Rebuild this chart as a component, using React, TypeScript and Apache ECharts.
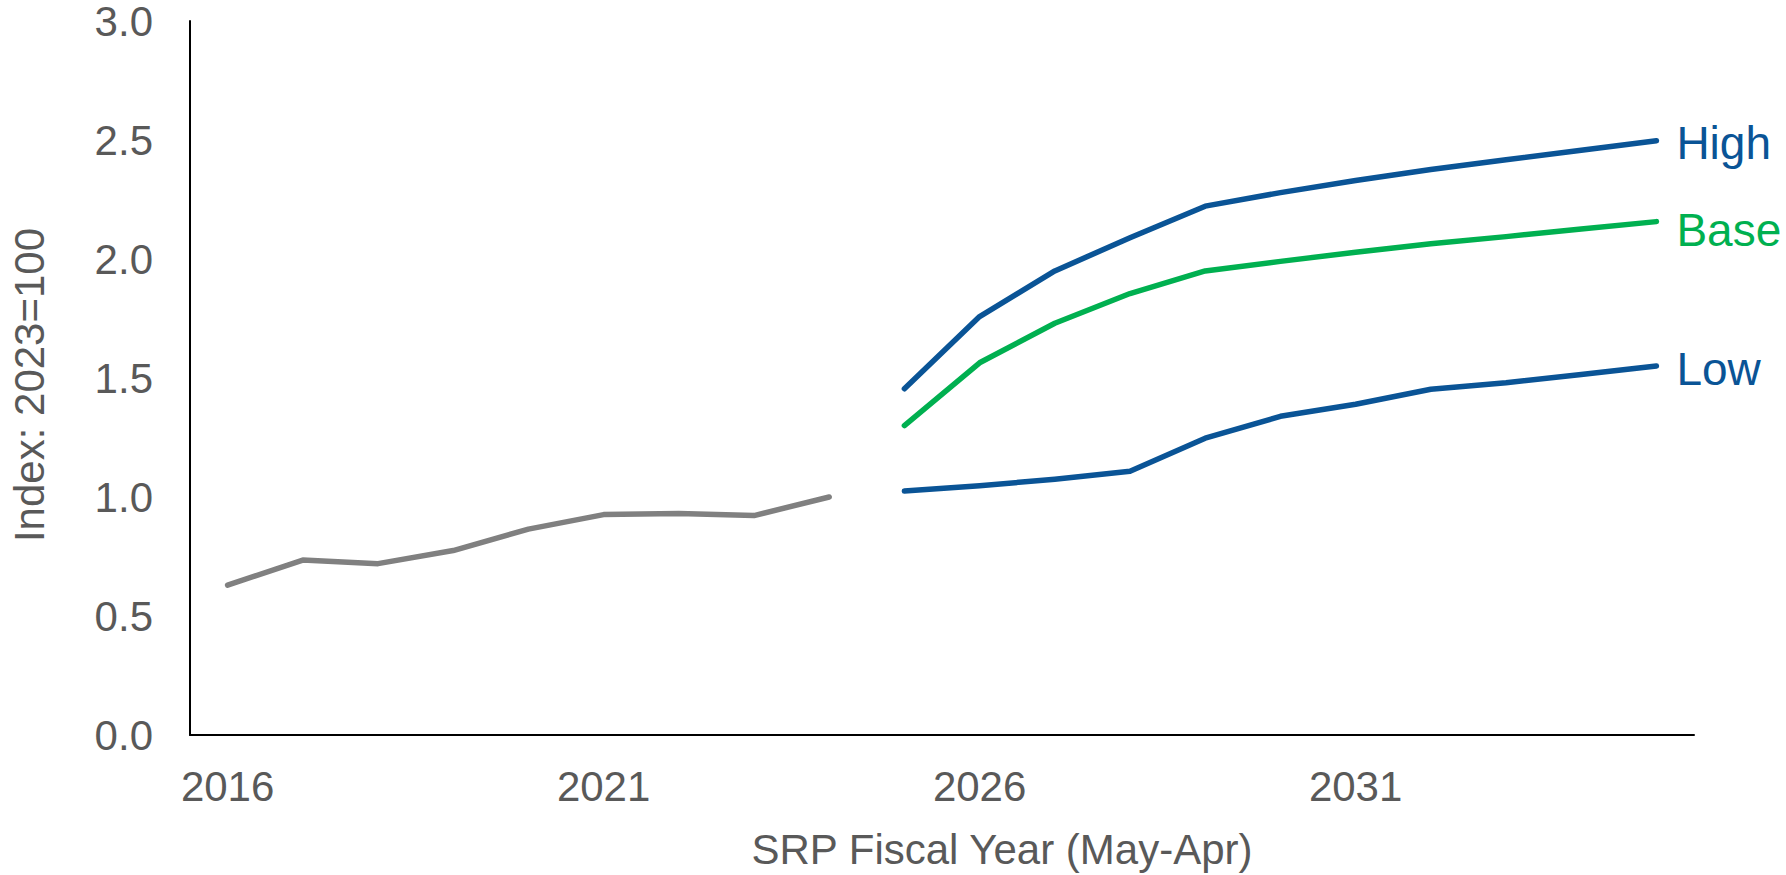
import React, { useEffect, useRef } from "react";
import * as echarts from "echarts";

const years: string[] = [
  "2016", "2017", "2018", "2019", "2020", "2021", "2022", "2023", "2024", "2025",
  "2026", "2027", "2028", "2029", "2030", "2031", "2032", "2033", "2034", "2035",
];

const historical: (number | null)[] = [
  0.63, 0.735, 0.72, 0.775, 0.865, 0.926, 0.931, 0.922, 1.0,
  null, null, null, null, null, null, null, null, null, null, null,
];

const high: (number | null)[] = [
  null, null, null, null, null, null, null, null, null,
  1.455, 1.758, 1.95, 2.089, 2.222, 2.279, 2.33, 2.376, 2.417, 2.457, 2.497,
];

const base: (number | null)[] = [
  null, null, null, null, null, null, null, null, null,
  1.3, 1.564, 1.73, 1.855, 1.95, 1.99, 2.028, 2.064, 2.094, 2.126, 2.157,
];

const low: (number | null)[] = [
  null, null, null, null, null, null, null, null, null,
  1.025, 1.047, 1.075, 1.108, 1.247, 1.339, 1.39, 1.453, 1.48, 1.515, 1.55,
];

const yTicks = { min: 0, max: 3, interval: 0.5 };

const FONT = "'Liberation Sans', Arial, sans-serif";
const TEXT = "#595959";
const BLUE = "#0A5496";
const GREEN = "#00B050";
const GRAY = "#808080";

export default function App() {
  const ref = useRef<HTMLDivElement>(null);

  useEffect(() => {
    if (!ref.current) return;
    const chart = echarts.init(ref.current, null, { renderer: "svg" });

    const mkSeries = (
      name: string,
      data: (number | null)[],
      color: string,
      label: boolean,
      dy: number
    ) => ({
      name,
      type: "line",
      data,
      showSymbol: false,
      symbol: "none",
      connectNulls: false,
      lineStyle: { color, width: 5.5, cap: "round", join: "round" },
      itemStyle: { color },
      emphasis: { disabled: true },
      endLabel: label
        ? {
            show: true,
            formatter: "{a}",
            color,
            fontSize: 46,
            fontFamily: FONT,
            distance: 20,
            offset: [0, dy],
          }
        : { show: false },
    });

    chart.setOption({
      animation: false,
      backgroundColor: "#ffffff",
      textStyle: { fontFamily: FONT },
      grid: { left: 180, right: 92, top: 21, bottom: 133, containLabel: false },
      xAxis: {
        type: "category",
        data: years,
        boundaryGap: true,
        axisLine: { show: true, lineStyle: { color: "#000000", width: 2 } },
        axisTick: { show: false },
        axisLabel: {
          interval: 4,
          fontSize: 42,
          color: TEXT,
          fontFamily: FONT,
          margin: 30,
        },
        splitLine: { show: false },
        name: "SRP Fiscal Year (May-Apr)",
        nameLocation: "middle",
        nameGap: 93,
        nameTextStyle: {
          fontSize: 42,
          color: TEXT,
          fontFamily: FONT,
          padding: [0, 0, 0, 120],
        },
      },
      yAxis: {
        type: "value",
        min: yTicks.min,
        max: yTicks.max,
        interval: yTicks.interval,
        axisLine: { show: true, lineStyle: { color: "#000000", width: 2 } },
        axisTick: { show: false },
        splitLine: { show: false },
        axisLabel: {
          fontSize: 42,
          lineHeight: 40,
          color: TEXT,
          fontFamily: FONT,
          margin: 37,
          formatter: (v: number) => v.toFixed(1),
        },
        name: "Index: 2023=100",
        nameLocation: "middle",
        nameGap: 140,
        nameTextStyle: {
          fontSize: 42,
          color: TEXT,
          fontFamily: FONT,
          padding: [0, 14, 0, 0],
        },
      },
      series: [
        mkSeries("Historical", historical, GRAY, false, 0),
        mkSeries("Low", low, BLUE, true, 3),
        mkSeries("Base", base, GREEN, true, 8),
        mkSeries("High", high, BLUE, true, 2),
      ],
    });

    return () => chart.dispose();
  }, []);

  return (
    <div
      ref={ref}
      style={{ position: "absolute", left: 0, top: 0, width: 1786, height: 875, background: "#fff" }}
    />
  );
}
